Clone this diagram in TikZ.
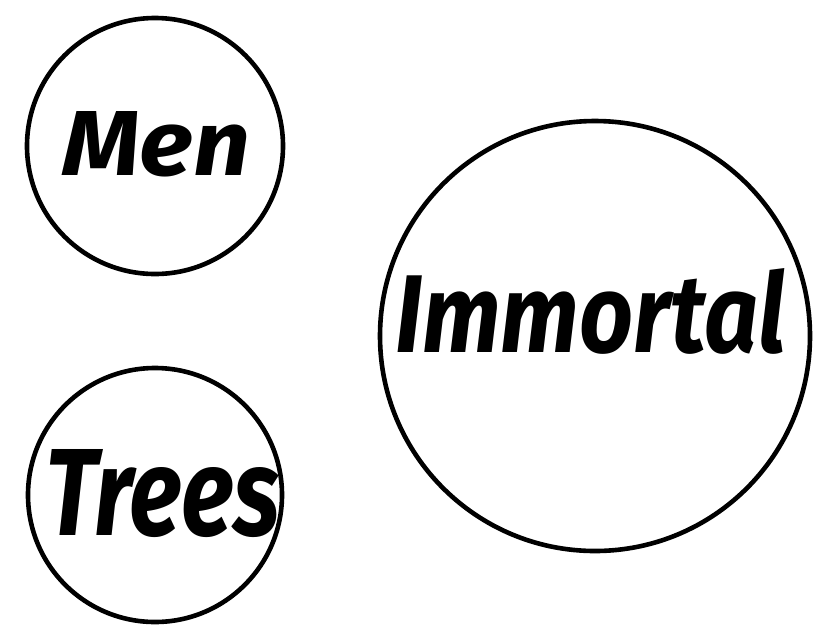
\documentclass[tikz,border=0pt]{standalone}
\usepackage{fontspec}
\setmainfont{Fira Sans}
\begin{document}
\begin{tikzpicture}[x=1pt,y=-1pt,
  circ/.style={draw=black,line width=4.6pt,circle,inner sep=0pt},
  word/.style={anchor=base west,inner sep=0pt,font=\fontsize{90}{90}\selectfont\bfseries\itshape}]
\useasboundingbox (0,0) rectangle (840,641);
\node[circ,minimum size=256pt] (men) at (155,146) {};
\node[circ,minimum size=254pt] (trees) at (155,495) {};
\node[circ,minimum size=430pt] (imm) at (595,336) {};
\node[word] (tmen) at (62,175) {\resizebox{188pt}{64pt}{Men}};
\node[word] (ttrees) at (45,535) {\resizebox{235pt}{86pt}{Trees}};
\node[word] (timm) at (395,352) {\resizebox{390pt}{84pt}{Immortal}};
\end{tikzpicture}
\end{document}
